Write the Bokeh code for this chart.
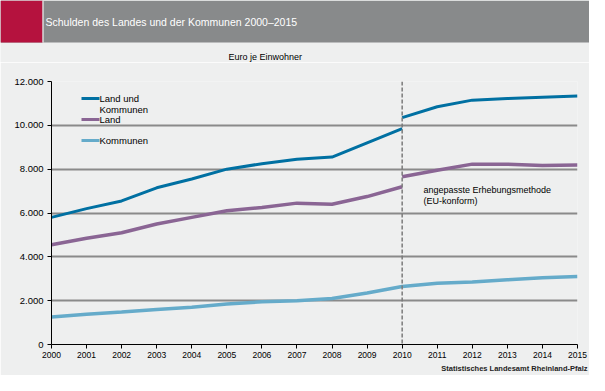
from bokeh.plotting import figure
from bokeh.models import Span, Label, FixedTicker, Range1d, Title
from bokeh.layouts import column, row
from bokeh.embed import file_html
from bokeh.resources import INLINE

# ---------------- data ----------------
title_text = "Schulden des Landes und der Kommunen 2000–2015"
unit_text = "Euro je Einwohner"
source_text = "Statistisches Landesamt Rheinland-Pfalz"
note_lines = ["angepasste Erhebungsmethode", "(EU-konform)"]
legend_labels = [["Land und", "Kommunen"], ["Land"], ["Kommunen"]]

years_old = [2000, 2001, 2002, 2003, 2004, 2005, 2006, 2007, 2008, 2009, 2010]
years_new = [2010, 2011, 2012, 2013, 2014, 2015]
years_all = list(range(2000, 2016))

land_kommunen_old = [5800, 6200, 6550, 7150, 7550, 8000, 8250, 8450, 8550, 9200, 9850]
land_kommunen_new = [10350, 10850, 11150, 11220, 11280, 11340]
land_old = [4550, 4850, 5100, 5500, 5800, 6100, 6250, 6450, 6400, 6750, 7200]
land_new = [7650, 7950, 8230, 8230, 8170, 8190]
kommunen = [1250, 1380, 1480, 1600, 1700, 1850, 1950, 2000, 2100, 2350, 2650,
            2800, 2850, 2950, 3050, 3100]

y_ticks = [0, 2000, 4000, 6000, 8000, 10000, 12000]
y_tick_labels = ["0", "2.000", "4.000", "6.000", "8.000", "10.000", "12.000"]
break_year = 2010

# ---------------- style ----------------
FONT = "Liberation Sans"
BG = "#eeefef"
BAR = "#888a8b"
CRIMSON = "#b5123e"
C_LUK = "#0070a2"
C_LAND = "#8a6594"
C_KOMM = "#65abca"
GRID = "#8a8a8a"
W = 589
H_TOP = 62          # title bar (42 px) + band for the unit text
BAR_H = 42
H_MAIN = 313
B_LEFT, B_RIGHT, B_TOP, B_BOTTOM = 51, 12, 19, 31
FRAME_W = W - B_LEFT - B_RIGHT
FRAME_H = H_MAIN - B_TOP - B_BOTTOM

# ---------------- header (title bar + unit) ----------------
t = figure(width=W, height=H_TOP, x_range=Range1d(0, W), y_range=Range1d(0, H_TOP),
           toolbar_location=None, output_backend="svg", min_border=0,
           x_axis_type=None, y_axis_type=None)
t.grid.visible = False
t.outline_line_color = None
t.background_fill_color = BG
t.border_fill_color = BG
bar_bottom = H_TOP - BAR_H
t.quad(left=[0], right=[W], bottom=[bar_bottom], top=[H_TOP], color=BAR, line_color=None)
t.quad(left=[0], right=[42], bottom=[bar_bottom], top=[H_TOP], color=CRIMSON, line_color=None)
t.quad(left=[42], right=[43], bottom=[bar_bottom], top=[H_TOP], color="white", line_color=None)
t.add_layout(Label(x=45, y=H_TOP - 21.5, text=title_text, text_color="white", text_font=FONT,
                   text_font_size="10.5px", text_baseline="middle"))
t.add_layout(Label(x=228, y=H_TOP - 56, text=unit_text, text_color="black", text_font=FONT,
                   text_font_size="9px", text_baseline="middle"))

# ---------------- main chart ----------------
p = figure(width=W, height=H_MAIN, x_range=Range1d(2000, 2015), y_range=Range1d(0, 12000),
           toolbar_location=None, output_backend="svg",
           min_border_left=B_LEFT, min_border_right=B_RIGHT,
           min_border_top=B_TOP, min_border_bottom=B_BOTTOM)
p.background_fill_color = BG
p.border_fill_color = BG
p.outline_line_color = None

p.xgrid.visible = False
p.ygrid.ticker = FixedTicker(ticks=y_ticks[1:])
p.ygrid.grid_line_color = GRID
p.ygrid.grid_line_width = 2

for ax in (p.xaxis[0], p.yaxis[0]):
    ax.axis_line_color = "black"
    ax.axis_line_width = 1
    ax.major_tick_line_color = "black"
    ax.major_tick_in = 0
    ax.major_tick_out = 4
    ax.minor_tick_line_color = None
    ax.major_label_text_font = FONT
    ax.major_label_text_color = "black"

p.xaxis.ticker = FixedTicker(ticks=years_all)
p.xaxis.major_label_text_font_size = "8.5px"
p.xaxis.major_label_standoff = 3
p.yaxis.ticker = FixedTicker(ticks=y_ticks)
p.yaxis.major_label_overrides = {v: s for v, s in zip(y_ticks, y_tick_labels)}
p.yaxis.major_label_text_font_size = "9.5px"
p.yaxis.major_label_standoff = 4

p.add_layout(Span(location=break_year, dimension="height", line_color="#7a7a7a",
                  line_width=1.5, line_dash="4 2"))

p.line(years_all, kommunen, line_color=C_KOMM, line_width=3.5)
p.line(years_old, land_old, line_color=C_LAND, line_width=3.5)
p.line(years_new, land_new, line_color=C_LAND, line_width=3.5)
p.line(years_old, land_kommunen_old, line_color=C_LUK, line_width=3)
p.line(years_new, land_kommunen_new, line_color=C_LUK, line_width=3)

# helpers: positions given as pixel offsets from the frame's top-left corner
px_per_year = FRAME_W / 15.0
px_per_val = FRAME_H / 12000.0
def dx(px):
    return 2000 + px / px_per_year
def dy(px_from_top):
    return 12000 - px_from_top / px_per_val

# legend (manual, like the original)
leg_colors = [C_LUK, C_LAND, C_KOMM]
leg_rows = [17, 38, 59]
for col, rw, labels in zip(leg_colors, leg_rows, legend_labels):
    yy = dy(rw)
    p.segment(x0=[dx(30)], x1=[dx(48)], y0=[yy], y1=[yy], line_color=col, line_width=3)
    for i, lab in enumerate(labels):
        p.add_layout(Label(x=dx(48), y=yy - i * 11 / px_per_val, text=lab, text_font=FONT,
                           text_font_size="9.5px", text_baseline="middle", text_color="black"))

for i, line in enumerate(note_lines):
    p.add_layout(Label(x=dx(372), y=dy(108) - i * 11 / px_per_val, text=line, text_font=FONT,
                       text_font_size="9px", text_baseline="middle", text_color="black"))

# source below the axis
p.add_layout(Title(text=source_text, align="right", offset=-10, standoff=3,
                   text_font=FONT, text_font_size="7.5px", text_font_style="bold",
                   text_color="#222222"), "below")

layout = column(row(t), p, spacing=0)
open("out.html", "w").write(file_html(layout, INLINE))
